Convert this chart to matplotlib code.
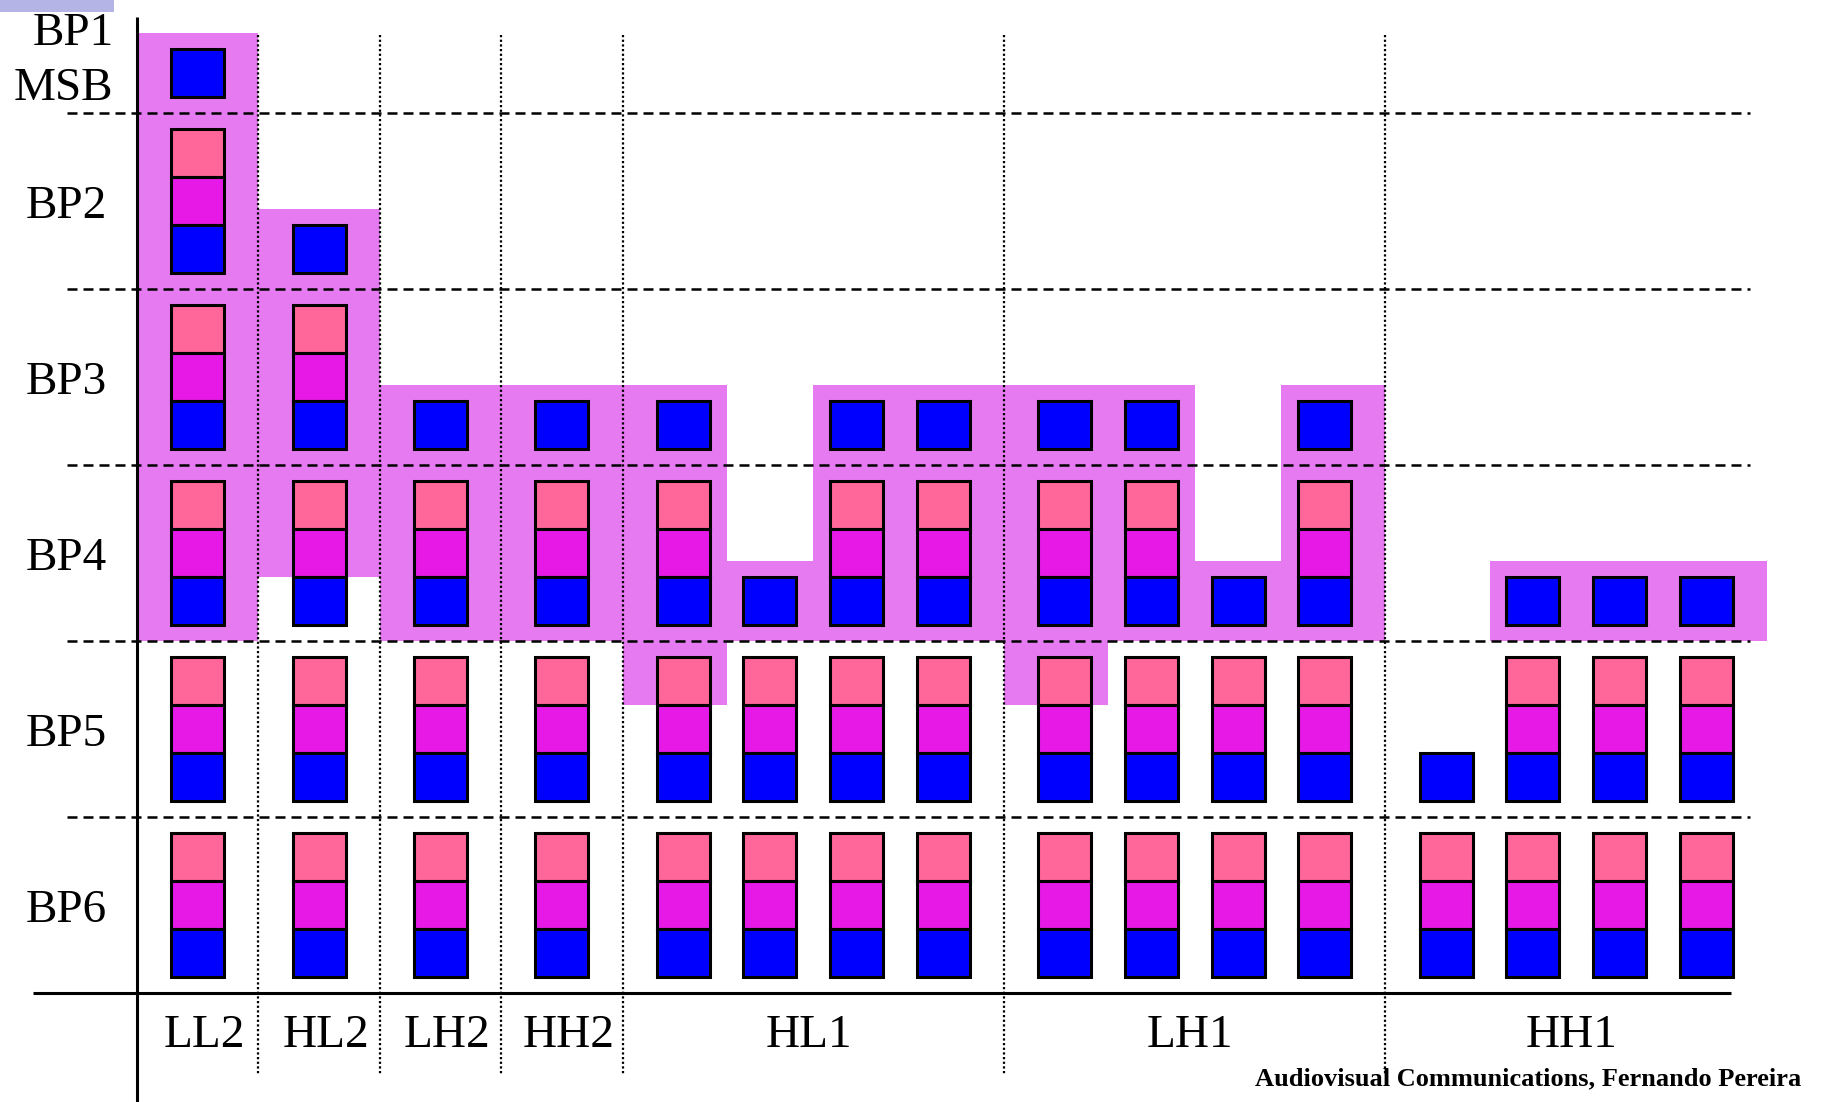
import matplotlib.pyplot as plt
from matplotlib.patches import Rectangle

plt.rcParams['font.family'] = ['Liberation Serif', 'DejaVu Serif']

subbands = ['LL2', 'HL2', 'LH2', 'HH2', 'HL1', 'LH1', 'HH1']
cols_per_band = [1, 1, 1, 1, 4, 4, 4]
plane_labels = ['BP1\nMSB', 'BP2', 'BP3', 'BP4', 'BP5', 'BP6']
# first bit plane of each column (only the blue pass there)
first_plane = [1, 2, 3, 3, 3, 4, 3, 3, 3, 3, 4, 3, 5, 4, 4, 4]
# highlighted part ends in this plane after this many passes (None = nothing)
cut_plane = [4, 4, 4, 4, 5, 4, 4, 4, 5, 4, 4, 4, None, 4, 4, 4]
cut_pass = [3, 2, 3, 3, 1, 3, 3, 3, 1, 3, 3, 3, None, 3, 3, 3]
pass_colors = ['#ff6699', '#e619e6', '#0000ff']
footer = 'Audiovisual Communications, Fernando Pereira'

W, H = 1822, 1102
PXX, PXY = 86.7, 176.0      # pixels per column unit / per bit plane
X0, Y0 = 137, -63           # pixel of (0, 0)
pad, cell, half = 16 / PXY, 48 / PXY, 0.305
n_planes = len(plane_labels)

fig = plt.figure(figsize=(W / 100, H / 100), dpi=100)
ax = fig.add_axes([0, 0, 1, 1])
ax.set_xlim(-X0 / PXX, (W - X0) / PXX)
ax.set_ylim((H - Y0) / PXY, -Y0 / PXY)
ax.axis('off')

# column positions from band structure
band_edges = [0.0]
centers, left, right = [], [], []
for n in cols_per_band:
    start = band_edges[-1]
    for j in range(n):
        c = start + 0.7 + j
        centers.append(c)
        left.append(start if j == 0 else c - 0.5)
        right.append(start + 0.7 + (n - 1) + 0.7 if j == n - 1 else c + 0.5)
    band_edges.append(start + 1.4 + (n - 1))

hl = '#e67af0'
for i, c in enumerate(centers):
    if cut_plane[i] is None:
        continue
    top = first_plane[i] - pad - cell - pad
    if cut_pass[i] == 3:
        bot = cut_plane[i]
    else:
        bot = cut_plane[i] - 1 + pad + cut_pass[i] * cell
    ax.add_patch(Rectangle((left[i], top), right[i] - left[i], bot - top,
                           facecolor=hl, edgecolor='none', zorder=1))

# bit plane boundaries
for p in range(1, n_planes):
    ax.plot([-70 / PXX, band_edges[-1] - 0.2], [p, p], color='black', lw=1.8,
            dashes=(4, 2.4), zorder=2)

# subband separators
for e in band_edges[1:-1]:
    ax.plot([e, e], [(35 - Y0) / PXY, (1075 - Y0) / PXY], color='black',
            lw=1.6, linestyle=(0, (1, 1.1)), zorder=2)

# coded passes
for i, c in enumerate(centers):
    for p in range(first_plane[i], n_planes + 1):
        passes = [2] if p == first_plane[i] else [0, 1, 2]
        for k in passes:
            y = p - 1 + pad + k * cell
            ax.add_patch(Rectangle((c - half, y), 2 * half, cell,
                                   facecolor=pass_colors[k], edgecolor='black',
                                   lw=2.2, zorder=3))

# axes
ax.plot([0, 0], [(17 - Y0) / PXY, (H - Y0) / PXY], color='black', lw=2.2, zorder=4,
        solid_capstyle='butt')
ax.plot([(33 - X0) / PXX, (1731 - X0) / PXX], [n_planes, n_planes], color='black',
        lw=2.2, zorder=4, solid_capstyle='butt')

# labels
ax.text(-0.27, (61 - Y0) / PXY, plane_labels[0], ha='right', va='center',
        fontsize=34, multialignment='right', linespacing=1.37)
for p in range(2, n_planes + 1):
    ax.text((66 - X0) / PXX, p - 0.47, plane_labels[p - 1], ha='center',
            va='center', fontsize=34)
for b, name in enumerate(subbands):
    shift = 0.08 if cols_per_band[b] == 1 else -0.05
    ax.text((band_edges[b] + band_edges[b + 1]) / 2 + shift, (1036 - Y0) / PXY, name,
            ha='center', va='center', fontsize=34)

fig.text(1801 / W, 1 - 1079 / H, footer, ha='right', va='center',
         fontsize=19, fontweight='bold')
fig.patches.append(Rectangle((0, 1 - 12 / H), 114 / W, 12 / H, facecolor='#b4b4e6',
                             edgecolor='none', transform=fig.transFigure, figure=fig))

fig.savefig('out.png', dpi=100)
